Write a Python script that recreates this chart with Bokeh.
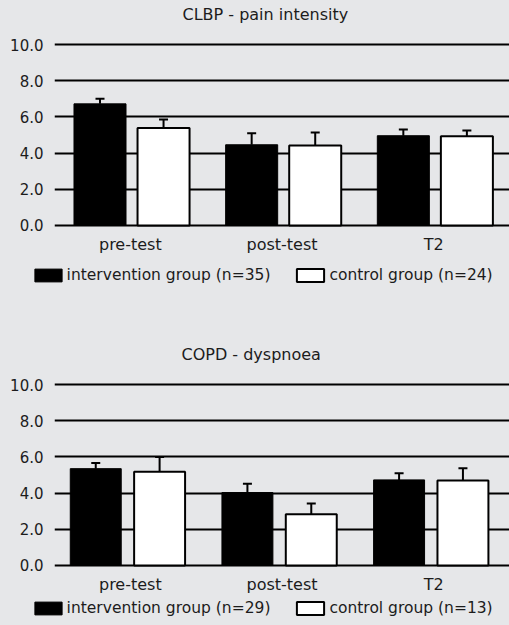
from bokeh.plotting import figure
from bokeh.models import (ColumnDataSource, FactorRange, Range1d, FixedTicker, Whisker,
                          TeeHead, Legend, LegendItem, NumeralTickFormatter)
from bokeh.transform import dodge
from bokeh.layouts import column
from bokeh.embed import file_html
from bokeh.resources import INLINE

# ---------------- data ----------------
categories = ["pre-test", "post-test", "T2"]
y_ticks = [0, 2, 4, 6, 8, 10]

clbp_title = "CLBP - pain intensity"
clbp_int_mean = [6.72, 4.46, 4.96]
clbp_int_err = [0.28, 0.64, 0.34]
clbp_ctrl_mean = [5.38, 4.42, 4.93]
clbp_ctrl_err = [0.48, 0.72, 0.32]
clbp_int_label = "intervention group (n=35)"
clbp_ctrl_label = "control group (n=24)"

copd_title = "COPD - dyspnoea"
copd_int_mean = [5.35, 4.03, 4.73]
copd_int_err = [0.31, 0.49, 0.37]
copd_ctrl_mean = [5.18, 2.83, 4.69]
copd_ctrl_err = [0.82, 0.59, 0.68]
copd_int_label = "intervention group (n=29)"
copd_ctrl_label = "control group (n=13)"

BG = "#e6e7e9"
TXT = "#1c1c1c"
FONT = "DejaVu Sans"
INT_STYLE = dict(fill_color="black", line_color="black", line_width=1)
CTRL_STYLE = dict(fill_color="white", line_color="black", line_width=2)


def make_source(int_mean, int_err, ctrl_mean, ctrl_err):
    return ColumnDataSource(dict(
        cat=categories,
        im=int_mean, iu=[m + e for m, e in zip(int_mean, int_err)],
        cm=ctrl_mean, cu=[m + e for m, e in zip(ctrl_mean, ctrl_err)],
    ))


def make_chart(src, title, height, off_int, off_ctrl, bar_w, title_offset):
    p = figure(width=509, height=height, x_range=FactorRange(*categories, range_padding=0),
               y_range=Range1d(-0.221, 10.221), output_backend="svg", toolbar_location=None,
               min_border_left=54, min_border_right=0, min_border_top=40,
               min_border_bottom=height - 229, frame_align=False)
    p.background_fill_color = BG
    p.border_fill_color = BG
    p.outline_line_color = None

    p.title.text = title
    p.title.align = "left"
    p.title.vertical_align = "top"
    p.title.offset = title_offset
    p.title.text_font = FONT
    p.title.text_font_size = "16px"
    p.title.text_font_style = "normal"
    p.title.text_color = TXT
    p.title.standoff = 0
    p.title.padding = (0, 0, 4, 15)

    p.xgrid.grid_line_color = None
    p.ygrid.ticker = FixedTicker(ticks=y_ticks)
    p.ygrid.grid_line_color = "black"
    p.ygrid.grid_line_width = 2

    p.yaxis.ticker = FixedTicker(ticks=y_ticks)
    p.yaxis.formatter = NumeralTickFormatter(format="0.0")
    p.yaxis.axis_line_color = None
    p.yaxis.major_tick_line_color = None
    p.yaxis.minor_tick_line_color = None
    p.yaxis.major_tick_out = 0
    p.yaxis.major_tick_in = 0
    p.yaxis.major_label_standoff = 11
    p.yaxis.major_label_text_font = FONT
    p.yaxis.major_label_text_font_size = "15px"
    p.yaxis.major_label_text_color = TXT

    p.xaxis.axis_line_color = None
    p.xaxis.major_tick_line_color = None
    p.xaxis.major_tick_out = 0
    p.xaxis.major_tick_in = 0
    p.xaxis.major_label_standoff = 5
    p.xaxis.major_label_text_font = FONT
    p.xaxis.major_label_text_font_size = "16px"
    p.xaxis.major_label_text_color = TXT

    p.vbar(x=dodge("cat", off_int, range=p.x_range), top="im", bottom=0, width=bar_w,
           source=src, **INT_STYLE)
    p.vbar(x=dodge("cat", off_ctrl, range=p.x_range), top="cm", bottom=0, width=bar_w,
           source=src, **CTRL_STYLE)

    for off, lo, up in [(off_int, "im", "iu"), (off_ctrl, "cm", "cu")]:
        w = Whisker(base=dodge("cat", off, range=p.x_range), lower=lo, upper=up, source=src,
                    dimension="height", line_color="black", line_width=2,
                    lower_head=None, upper_head=TeeHead(size=9, line_color="black", line_width=2))
        p.add_layout(w)
    return p


def make_legend(src, int_label, ctrl_label, height, loc):
    lf = figure(width=509, height=height, x_range=FactorRange(*categories),
                y_range=Range1d(0, 1), output_backend="svg", toolbar_location=None,
                x_axis_type=None, y_axis_type=None, min_border=0, frame_align=False)
    lf.background_fill_color = BG
    lf.border_fill_color = BG
    lf.outline_line_color = None
    lf.grid.grid_line_color = None
    # hidden renderers: only their legend swatches are shown
    r_int = lf.vbar(x="cat", top="im", width=0.3, source=src, visible=False, **INT_STYLE)
    r_ctrl = lf.vbar(x="cat", top="cm", width=0.3, source=src, visible=False, **CTRL_STYLE)
    legend = Legend(items=[LegendItem(label=int_label, renderers=[r_int]),
                           LegendItem(label=ctrl_label, renderers=[r_ctrl])],
                    orientation="horizontal", location=loc,
                    glyph_width=34, glyph_height=16, label_standoff=2, spacing=23,
                    padding=0, margin=0, border_line_color=None, background_fill_alpha=0,
                    inactive_fill_alpha=0,
                    label_text_font=FONT, label_text_font_size="15.5px", label_text_color=TXT,
                    label_height=20)
    lf.add_layout(legend)
    return lf


s1 = make_source(clbp_int_mean, clbp_int_err, clbp_ctrl_mean, clbp_ctrl_err)
s2 = make_source(copd_int_mean, copd_int_err, copd_ctrl_mean, copd_ctrl_err)

p1 = make_chart(s1, clbp_title, 258, -0.2, 0.219, 0.343, 128)
l1 = make_legend(s1, clbp_int_label, clbp_ctrl_label, 82, (30.6, 55.5))
p2 = make_chart(s2, copd_title, 258, -0.228, 0.193, 0.336, 127)
l2 = make_legend(s2, copd_int_label, copd_ctrl_label, 27, (30.6, 6.7))

p = column(p1, l1, p2, l2, spacing=0, styles={"background-color": BG})
open("out.html", "w").write(file_html(p, INLINE))
